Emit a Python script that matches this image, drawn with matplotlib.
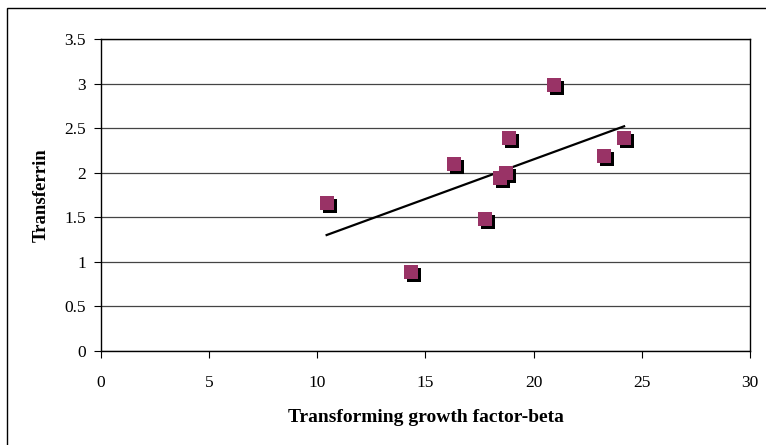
import matplotlib
matplotlib.use("Agg")
import matplotlib.pyplot as plt
from matplotlib.transforms import offset_copy
from matplotlib.patches import Rectangle
import numpy as np

# values
tgf_beta = [10.43, 14.33, 16.32, 17.75, 18.45, 18.71, 18.86, 20.94, 23.25, 24.18]
transferrin = [1.665, 0.887, 2.10, 1.486, 1.94, 1.995, 2.39, 2.987, 2.19, 2.39]
x_ticks = [0, 5, 10, 15, 20, 25, 30]
y_ticks = [0, 0.5, 1, 1.5, 2, 2.5, 3, 3.5]
y_tick_labels = ["0", "0.5", "1", "1.5", "2", "2.5", "3", "3.5"]

plt.rcParams['font.family'] = ['Liberation Serif', 'DejaVu Serif']

fig = plt.figure(figsize=(7.66, 4.45), dpi=100)
ax = fig.add_axes([101 / 766, 1 - 351 / 445, 649 / 766, (351 - 39.3) / 445])

# outer chart border (right/bottom edges fall outside the picture)
fig.patches.append(Rectangle((7.3 / 766, -0.05), 1.2, 1 - 8.3 / 445 + 0.05,
                             transform=fig.transFigure, fill=False,
                             edgecolor='black', linewidth=1.0))

ax.set_xlim(0, 30)
ax.set_ylim(0, 3.5)
ax.set_xticks(x_ticks)
ax.set_yticks(y_ticks)
ax.set_yticklabels(y_tick_labels)
ax.grid(axis='y', color='#444444', linewidth=0.9)
ax.set_axisbelow(True)
for s in ax.spines.values():
    s.set_color('black')
    s.set_linewidth(1.0)
ax.tick_params(direction='out', length=5, width=0.8, labelsize=12.5, colors='black', pad=6)
ax.tick_params(axis='x', pad=12)

# linear trend line
coef = np.polyfit(tgf_beta, transferrin, 1)
xs = np.array([min(tgf_beta), max(tgf_beta)])
ax.plot(xs, np.polyval(coef, xs), color='black', linewidth=1.6, zorder=3)

# square markers with a black drop shadow
shadow = offset_copy(ax.transData, fig=fig, x=3, y=-3, units='dots')
ax.plot(tgf_beta, transferrin, 's', ms=9.8, color='black', mew=0,
        transform=shadow, zorder=4)
ax.plot(tgf_beta, transferrin, 's', ms=9.8, color='#993366', mew=0, zorder=5)

ax.set_xlabel("Transforming growth factor-beta", fontsize=14, fontweight='bold', labelpad=13)
ax.set_ylabel("Transferrin", fontsize=13.5, fontweight='bold', labelpad=10)

fig.savefig("out.png", dpi=100)
